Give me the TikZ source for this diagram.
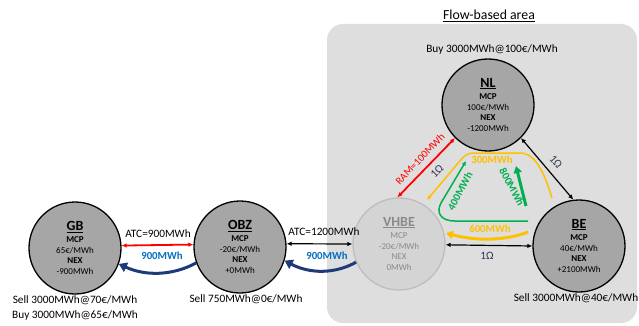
\documentclass[tikz,border=0pt]{standalone}
\usepackage{fontspec}
\setmainfont{Carlito}
\usetikzlibrary{arrows.meta,calc}

\definecolor{areagray}{HTML}{DEDEDE}
\definecolor{zonegray}{HTML}{A6A6A6}
\definecolor{vhbefill}{HTML}{D4D4D4}
\definecolor{vhbeline}{HTML}{BDBDBD}
\definecolor{vhbetext}{HTML}{8A8A8A}
\definecolor{flownavy}{HTML}{1F3A7A}
\definecolor{flowblue}{HTML}{0070C0}
\definecolor{flowyellow}{HTML}{FFC000}
\definecolor{flowgreen}{HTML}{00B050}
\definecolor{ohmtext}{HTML}{2F3650}

\newcommand\zonefont{\fontsize{9}{10.9}\selectfont}
\newcommand\zonetitle[1]{{\fontsize{14}{14}\selectfont\bfseries\underline{#1}}}

\begin{document}
\begin{tikzpicture}[x=1pt,y=-1pt,
  zone/.style={circle,draw=black,line width=1.3pt,fill=zonegray,
    minimum size=92pt,inner sep=0pt,align=center,font=\zonefont},
  fadedzone/.style={zone,draw=vhbeline,fill=vhbefill,text=vhbetext},
  lbl/.style={font=\fontsize{11.3}{13}\selectfont,inner sep=0pt},
  flowlbl/.style={font=\fontsize{10.8}{12}\selectfont\bfseries,inner sep=0pt},
  tip/.tip={Latex[length=5pt,width=4.5pt]},
  link/.style={tip-tip,line width=1.2pt,draw=black},
  redlink/.style={link,draw=red,line width=1.8pt},
  navyflow/.style={draw=flownavy,line width=3pt,-{Triangle[length=8pt,width=10pt]}},
  thinflow/.style={line width=1.5pt,-{Latex[length=4.5pt,width=4.5pt]}},
  thickflow/.style={line width=3pt,-{Triangle[length=7pt,width=8pt]}}
]
\useasboundingbox (0,0) rectangle (639,326);
\fill[white] (0,0) rectangle (639,326);

% flow-based region
\fill[areagray,rounded corners=16pt] (327,24) rectangle (637,323);
\node[font=\fontsize{13.8}{15}\selectfont,inner sep=0pt] (fbtitle) at (489,16) {\underline{Flow-based area}};

% bidding zones
\node[zone] (GB) at (75,248)
  {\zonetitle{GB}\\[1pt]\textbf{MCP}\\65€/MWh\\\textbf{NEX}\\-900MWh};
\node[zone] (OBZ) at (240,247)
  {\zonetitle{OBZ}\\[1pt]\textbf{MCP}\\-20€/MWh\\\textbf{NEX}\\+0MWh};
\node[fadedzone] (VHBE) at (399,244)
  {\zonetitle{VHBE}\\[1pt]MCP\\-20€/MWh\\NEX\\0MWh};
\node[zone] (BE) at (579,246)
  {\zonetitle{BE}\\[1pt]\textbf{MCP}\\40€/MWh\\\textbf{NEX}\\+2100MWh};
\node[zone] (NL) at (488,105)
  {\zonetitle{NL}\\[1pt]\textbf{MCP}\\100€/MWh\\\textbf{NEX}\\-1200MWh};

% orders
\node[lbl] (GBsell) at (75,300) {Sell 3000MWh@70€/MWh};
\node[lbl] (GBbuy) at (75,315) {Buy 3000MWh@65€/MWh};
\node[lbl] (OBZsell) at (246,299) {Sell 750MWh@0€/MWh};
\node[lbl] (BEsell) at (576,298) {Sell 3000MWh@40€/MWh};
\node[lbl] (NLbuy) at (492,49) {Buy 3000MWh@100€/MWh};

% interconnectors
\draw[redlink] (GB.3) -- (OBZ.177);
\node[lbl] (atcA) at (158,234) {ATC=900MWh};
\draw[link] (OBZ.4) -- (VHBE.180);
\node[lbl] (atcB) at (324,232) {ATC=1200MWh};
\draw[link] (VHBE.-1) -- (BE.180);
\node[lbl,text=ohmtext] (ohmA) at (487,256) {1Ω};
\draw[redlink] (VHBE.92) -- (NL.225);
\node[lbl,text=red,font=\fontsize{10.5}{12}\selectfont,rotate=46] (ram) at (420,159) {RAM=100MWh};
\node[lbl,text=ohmtext,rotate=45] (ohmB) at (437,171) {1Ω};
\draw[link] (NL.-45) -- (BE.97);
\node[lbl,text=ohmtext,rotate=-48] (ohmC) at (556,162) {1Ω};

% scheduled exchanges
\draw[navyflow] (OBZ.200) .. controls (172,276) and (145,276) .. (GB.-20);
\node[flowlbl,text=flowblue] (fA) at (162,256) {900MWh};
\draw[navyflow] (VHBE.203) .. controls (335,274) and (310,274) .. (OBZ.-17);
\node[flowlbl,text=flowblue] (fB) at (327,256) {900MWh};

% flows inside the flow-based area
\coordinate (yA) at (552,198);
\coordinate (yB) at (427,200);
\draw[thinflow,draw=flowyellow] (yA) .. controls (545,175) and (536,153) .. (520,153)
  -- (474,153) .. controls (467,153) and (464,156) .. (459,162) -- (yB);
\node[flowlbl,text=flowyellow] (f300) at (492,160) {300MWh};

\coordinate (yC) at (528,232);
\coordinate (yD) at (446,233);
\draw[thickflow,draw=flowyellow] (yC) .. controls (505,241) and (475,241) .. (yD);
\node[flowlbl,text=flowyellow] (f600) at (490,229) {600MWh};

\coordinate (gA) at (528,221);
\coordinate (gB) at (466,161);
\draw[thinflow,draw=flowgreen] (gA) -- (455,221) .. controls (440,221) and (436,212) .. (441,203) -- (gB);
\node[flowlbl,text=flowgreen,rotate=62] (f400) at (460,191) {400MWh};

\coordinate (gC) at (526,206);
\coordinate (gD) at (516,166);
\draw[thickflow,draw=flowgreen] (gC) -- (gD);
\node[flowlbl,text=flowgreen,rotate=-62] (f800) at (512,187) {800MWh};
\end{tikzpicture}
\end{document}
